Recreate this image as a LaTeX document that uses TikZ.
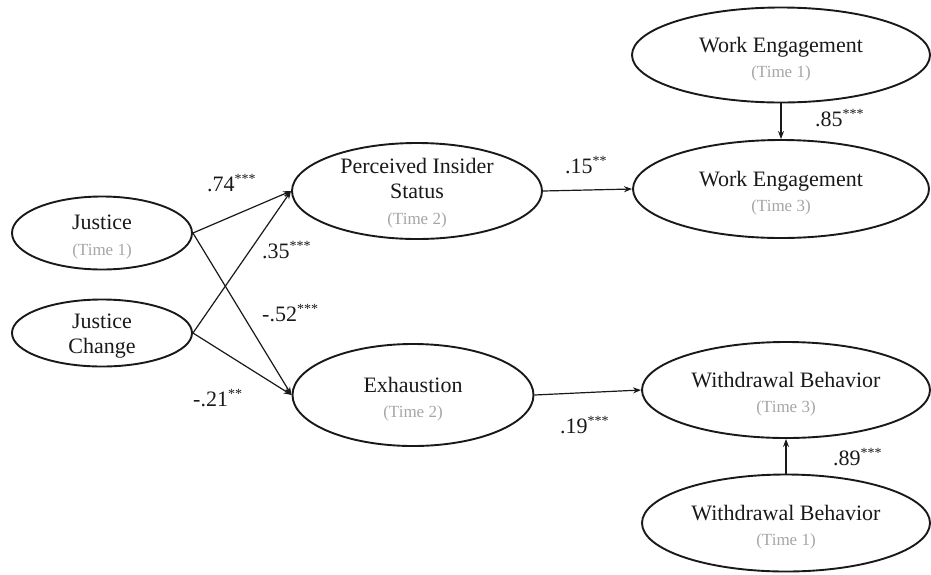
\documentclass[tikz,border=0pt]{standalone}
\usepackage{fontspec}
\setmainfont{Liberation Serif}
\usetikzlibrary{arrows.meta,shapes.geometric}
\definecolor{timegray}{RGB}{165,165,165}
\definecolor{inkc}{RGB}{25,25,25}
\newcommand{\tlab}[1]{{\color{timegray}\fontsize{17}{24}\selectfont #1}}
\newcommand{\coef}[2]{#1\textsuperscript{\fontsize{14}{14}\selectfont #2}}
\begin{document}
\begin{tikzpicture}[x=1pt,y=-1pt,
  latent/.style={ellipse,draw=inkc,line width=1.9pt,inner sep=0pt},
  ltext/.style={align=center,inner sep=0pt,text=inkc,font=\fontsize{22}{25.5}\selectfont},
  arr/.style={draw=inkc,line width=1.2pt,-{Stealth[length=8pt,width=6pt]}},
  coeflab/.style={anchor=base west,inner sep=0pt,text=inkc,font=\fontsize{22}{24}\selectfont}]
\useasboundingbox (0,0) rectangle (931,574);
% ellipses
\node[latent,minimum width=180pt,minimum height=73pt] (just) at (102,233) {};
\node[latent,minimum width=180pt,minimum height=67pt] (jc) at (102,333) {};
\node[latent,minimum width=250pt,minimum height=96pt] (pis) at (417,191) {};
\node[latent,minimum width=241pt,minimum height=102pt] (exh) at (413,395) {};
\node[latent,minimum width=298pt,minimum height=95pt] (we1) at (781,55) {};
\node[latent,minimum width=296pt,minimum height=98pt] (we3) at (781,189) {};
\node[latent,minimum width=288pt,minimum height=96pt] (wd3) at (786,390) {};
\node[latent,minimum width=288pt,minimum height=97pt] (wd1) at (786,523) {};
% texts
\node[ltext] (justT) at ([yshift=-4pt]just.center) {Justice\\\tlab{(Time 1)}};
\node[ltext] (jcT) at ([yshift=-3pt]jc.center) {Justice\\Change};
\node[ltext] (pisT) at ([yshift=-2pt]pis.center) {Perceived Insider\\Status\\\tlab{(Time 2)}};
\node[ltext] (exhT) at ([yshift=-4pt]exh.center) {Exhaustion\\\tlab{(Time 2)}};
\node[ltext] (we1T) at ([yshift=-4pt]we1.center) {Work Engagement\\\tlab{(Time 1)}};
\node[ltext] (we3T) at ([yshift=-4pt]we3.center) {Work Engagement\\\tlab{(Time 3)}};
\node[ltext] (wd3T) at ([yshift=-4pt]wd3.center) {Withdrawal Behavior\\\tlab{(Time 3)}};
\node[ltext] (wd1T) at ([yshift=-4pt]wd1.center) {Withdrawal Behavior\\\tlab{(Time 1)}};
% connectors
\draw[arr] (just.east) -- (pis.west);
\draw[arr] (just.east) -- (exh.west);
\draw[arr] (jc.east) -- (pis.west);
\draw[arr] (jc.east) -- (exh.west);
\draw[arr] (pis.east) -- (we3.west);
\draw[arr] (exh.east) -- (wd3.west);
\draw[arr] (we1.south) -- (we3.north);
\draw[arr] (wd1.north) -- (wd3.south);
% coefficients
\node[coeflab] (c1) at (207,191) {\coef{.74}{***}};
\node[coeflab] (c2) at (262,258) {\coef{.35}{***}};
\node[coeflab] (c3) at (262,321) {\coef{-.52}{***}};
\node[coeflab] (c4) at (193,406) {\coef{-.21}{**}};
\node[coeflab] (c5) at (565,173) {\coef{.15}{**}};
\node[coeflab] (c6) at (560,433) {\coef{.19}{***}};
\node[coeflab] (c7) at (815,126) {\coef{.85}{***}};
\node[coeflab] (c8) at (833,465) {\coef{.89}{***}};
\end{tikzpicture}
\end{document}
